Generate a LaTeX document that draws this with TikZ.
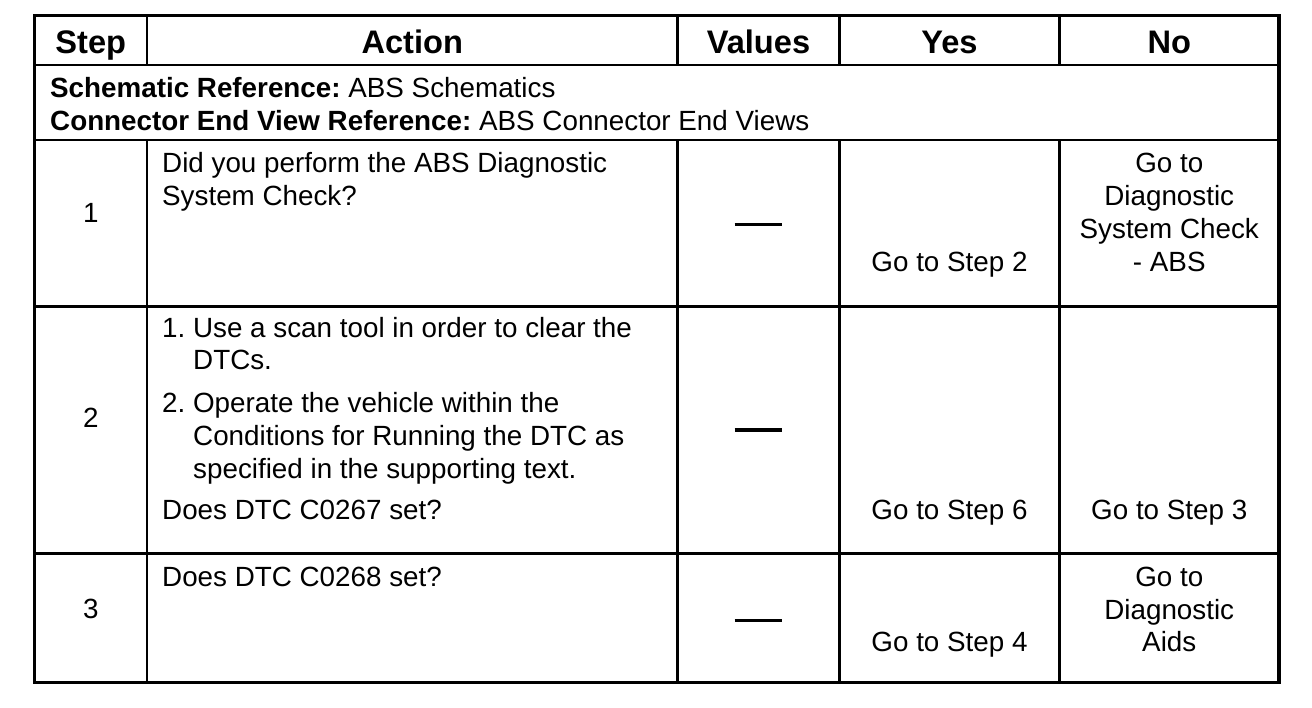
\documentclass[tikz,border=0pt]{standalone}
\usepackage{fontspec}
\setmainfont{Liberation Sans}
\frenchspacing
\newcommand\bodyf{\fontsize{27.8}{33}\selectfont}
\newcommand\headf{\fontsize{32.6}{38}\selectfont\bfseries}
\begin{document}
\begin{tikzpicture}[x=1pt,y=-1pt,
  grid/.style={line width=2.6pt},
  outer/.style={line width=3.6pt},
  txt/.style={inner sep=0pt,font=\bodyf},
  lt/.style={txt,anchor=base west},
  ct/.style={txt,anchor=base},
  hd/.style={inner sep=0pt,anchor=base,font=\headf},
  dashmark/.style={line width=3pt}]
\useasboundingbox (0,0) rectangle (1312,708);
\fill[white] (0,0) rectangle (1312,708);
% coordinates
\def\xa{34.5}\def\xb{147}\def\xc{677.5}\def\xd{839.5}\def\xe{1059.5}\def\xf{1279}
\def\ya{15.5}\def\yb{65}\def\yc{140}\def\yd{306.5}\def\ye{553.5}\def\yf{682.5}
% grid
\draw[grid] (\xa,\yb) -- (\xf,\yb);
\draw[grid] (\xa,\yc) -- (\xf,\yc);
\draw[grid] (\xa,\yd) -- (\xf,\yd);
\draw[grid] (\xa,\ye) -- (\xf,\ye);
\foreach \x in {\xb,\xc,\xd,\xe}{
  \draw[grid] (\x,\ya) -- (\x,\yb);
  \draw[grid] (\x,\yc) -- (\x,\yf);
}
\draw[outer] (\xa,\ya) rectangle (\xf,\yf);
% header
\node[hd] (hstep) at (90.75,54) {Step};
\node[hd] (hact) at (412.25,54) {Action};
\node[hd] (hval) at (758.5,54) {Values};
\node[hd] (hyes) at (949.5,54) {Yes};
\node[hd] (hno) at (1169.25,54) {No};
% reference row
\node[lt] (ref1) at (50,98) {\textbf{Schematic Reference:} ABS Schematics};
\node[lt] (ref2) at (50,131) {\textbf{Connector End View Reference:} ABS Connector End Views};
% row 1
\node[ct] (s1) at (90.75,223) {1};
\node[lt] (a1a) at (162,173) {Did you perform the ABS Diagnostic};
\node[lt] (a1b) at (162,206) {System Check?};
\coordinate (v1l) at (734.5,225); \coordinate (v1r) at (781.5,225);
\draw[dashmark] (v1l) -- (v1r);
\node[ct] (y1) at (949.5,272) {Go to Step 2};
\node[ct] (n1a) at (1169.25,173) {Go to};
\node[ct] (n1b) at (1169.25,206) {Diagnostic};
\node[ct] (n1c) at (1169.25,239) {System Check};
\node[ct] (n1d) at (1169.25,272) {- ABS};
% row 2
\node[ct] (s2) at (90.75,428) {2};
\node[lt] (a2a) at (162,338) {1. Use a scan tool in order to clear the};
\node[lt] (a2b) at (193,370) {DTCs.};
\node[lt] (a2c) at (162,413) {2. Operate the vehicle within the};
\node[lt] (a2d) at (193,446) {Conditions for Running the DTC as};
\node[lt] (a2e) at (193,478) {specified in the supporting text.};
\node[lt] (a2f) at (162,519) {Does DTC C0267 set?};
\coordinate (v2l) at (734.5,430); \coordinate (v2r) at (781.5,430);
\draw[dashmark] (v2l) -- (v2r);
\node[ct] (y2) at (949.5,519) {Go to Step 6};
\node[ct] (n2) at (1169.25,519) {Go to Step 3};
% row 3
\node[ct] (s3) at (90.75,618) {3};
\node[lt] (a3) at (162,586) {Does DTC C0268 set?};
\coordinate (v3l) at (734.5,620); \coordinate (v3r) at (781.5,620);
\draw[dashmark] (v3l) -- (v3r);
\node[ct] (y3) at (949.5,651) {Go to Step 4};
\node[ct] (n3a) at (1169.25,586) {Go to};
\node[ct] (n3b) at (1169.25,619) {Diagnostic};
\node[ct] (n3c) at (1169.25,651) {Aids};
\end{tikzpicture}
\end{document}
